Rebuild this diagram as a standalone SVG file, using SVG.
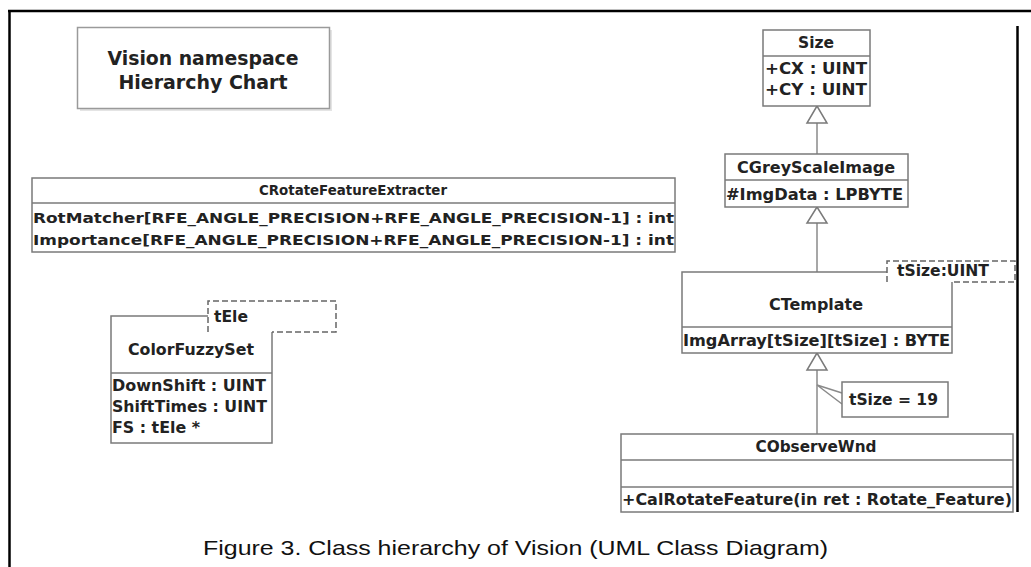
<svg xmlns="http://www.w3.org/2000/svg" width="1031" height="567" viewBox="0 0 1031 567">
<defs>
<style>
.frame{stroke:#000;stroke-width:2.5;fill:none}
.box{fill:#fff;stroke:#7a7a7a;stroke-width:1.5}
.sep{stroke:#7a7a7a;stroke-width:1.5}
.dash{fill:#fff;stroke:#666;stroke-width:1.5;stroke-dasharray:6 3}
.conn{stroke:#8a8a8a;stroke-width:1.5;fill:none}
.tri{fill:#fff;stroke:#7a7a7a;stroke-width:1.5}
.t{font-family:"DejaVu Sans",Verdana,sans-serif;font-weight:bold;fill:#222}
.f15{font-size:15px}
.f14{font-size:14px}
.f19{font-size:19px}
.cap{font-family:"Liberation Sans",Arial,sans-serif;font-size:21px;fill:#111}
</style>
</defs>
<rect width="1031" height="567" fill="#fff"/>
<g id="frame">
<line class="frame" x1="9.5" y1="10" x2="9.5" y2="567"/>
<line class="frame" x1="8" y1="11" x2="1031" y2="11"/>
<line class="frame" x1="1017.5" y1="26" x2="1017.5" y2="512"/>
</g>
<g id="title">
<rect x="80" y="30" width="252" height="81" fill="#e4e4e4"/>
<rect x="77.5" y="27.5" width="252" height="81" fill="#fff" stroke="#9a9a9a" stroke-width="1.5"/>
<text class="t f19" x="203" y="65" text-anchor="middle" textLength="191" lengthAdjust="spacingAndGlyphs">Vision namespace</text>
<text class="t f19" x="203" y="89" text-anchor="middle" textLength="169" lengthAdjust="spacingAndGlyphs">Hierarchy Chart</text>
</g>
<g id="connectors">
<line class="conn" x1="817" y1="123" x2="817" y2="154"/>
<line class="conn" x1="817" y1="223" x2="817" y2="272"/>
<line class="conn" x1="817" y1="370" x2="817" y2="434"/>
<polygon class="tri" points="817,106 807,123 827,123"/>
<polygon class="tri" points="817,207 807,223 827,223"/>
<polygon class="tri" points="817,353 807,370 827,370"/>
<polyline class="conn" points="842,393 817,385 842,404"/>
</g>
<g id="CRotateFeatureExtracter">
<rect class="box" x="32" y="178" width="643" height="74"/>
<line class="sep" x1="32" y1="203" x2="675" y2="203"/>
<text class="t f14" x="353" y="195" text-anchor="middle" textLength="188" lengthAdjust="spacingAndGlyphs">CRotateFeatureExtracter</text>
<text class="t f14" x="33" y="223" textLength="641" lengthAdjust="spacingAndGlyphs">RotMatcher[RFE_ANGLE_PRECISION+RFE_ANGLE_PRECISION-1] : int</text>
<text class="t f14" x="33" y="245" textLength="641" lengthAdjust="spacingAndGlyphs">Importance[RFE_ANGLE_PRECISION+RFE_ANGLE_PRECISION-1] : int</text>
</g>
<g id="ColorFuzzySet">
<rect class="box" x="111" y="316" width="161" height="127"/>
<line class="sep" x1="111" y1="373" x2="272" y2="373"/>
<path class="dash" d="M208,332 V301 H336 V332 H272"/>
<text class="t f15" x="214" y="322" textLength="34" lengthAdjust="spacingAndGlyphs">tEle</text>
<text class="t f15" x="191" y="355" text-anchor="middle" textLength="126" lengthAdjust="spacingAndGlyphs">ColorFuzzySet</text>
<text class="t f15" x="112" y="391" textLength="154" lengthAdjust="spacingAndGlyphs">DownShift : UINT</text>
<text class="t f15" x="112" y="412" textLength="155" lengthAdjust="spacingAndGlyphs">ShiftTimes : UINT</text>
<text class="t f15" x="112" y="433" textLength="88" lengthAdjust="spacingAndGlyphs">FS : tEle *</text>
</g>
<g id="Size">
<rect class="box" x="763" y="30" width="107" height="76"/>
<line class="sep" x1="763" y1="56" x2="870" y2="56"/>
<text class="t f15" x="816" y="48" text-anchor="middle" textLength="36" lengthAdjust="spacingAndGlyphs">Size</text>
<text class="t f15" x="765" y="74" textLength="102" lengthAdjust="spacingAndGlyphs">+CX : UINT</text>
<text class="t f15" x="765" y="95" textLength="102" lengthAdjust="spacingAndGlyphs">+CY : UINT</text>
</g>
<g id="CGreyScaleImage">
<rect class="box" x="725" y="154" width="183" height="53"/>
<line class="sep" x1="725" y1="180" x2="908" y2="180"/>
<text class="t f15" x="816" y="173" text-anchor="middle" textLength="158" lengthAdjust="spacingAndGlyphs">CGreyScaleImage</text>
<text class="t f15" x="726" y="200" textLength="177" lengthAdjust="spacingAndGlyphs">#ImgData : LPBYTE</text>
</g>
<g id="CTemplate">
<rect class="box" x="682" y="272" width="270" height="81"/>
<line class="sep" x1="682" y1="327" x2="952" y2="327"/>
<path class="dash" d="M887,282 V261 H1015 V282 H952"/>
<text class="t f15" x="897" y="276" textLength="92" lengthAdjust="spacingAndGlyphs">tSize:UINT</text>
<text class="t f15" x="816" y="310" text-anchor="middle" textLength="94" lengthAdjust="spacingAndGlyphs">CTemplate</text>
<text class="t f15" x="683" y="346" textLength="267" lengthAdjust="spacingAndGlyphs">ImgArray[tSize][tSize] : BYTE</text>
</g>
<g id="note">
<rect class="box" x="842" y="382" width="106" height="35"/>
<text class="t f15" x="849" y="405" textLength="89" lengthAdjust="spacingAndGlyphs">tSize = 19</text>
</g>
<g id="CObserveWnd">
<rect class="box" x="621" y="434" width="392" height="78"/>
<line class="sep" x1="621" y1="460" x2="1013" y2="460"/>
<line class="sep" x1="621" y1="487" x2="1013" y2="487"/>
<text class="t f15" x="816" y="452" text-anchor="middle" textLength="121" lengthAdjust="spacingAndGlyphs">CObserveWnd</text>
<text class="t f15" x="622" y="505" textLength="390" lengthAdjust="spacingAndGlyphs">+CalRotateFeature(in ret : Rotate_Feature)</text>
</g>
<text class="cap" x="203" y="555" textLength="625" lengthAdjust="spacingAndGlyphs">Figure 3. Class hierarchy of Vision (UML Class Diagram)</text>
</svg>
